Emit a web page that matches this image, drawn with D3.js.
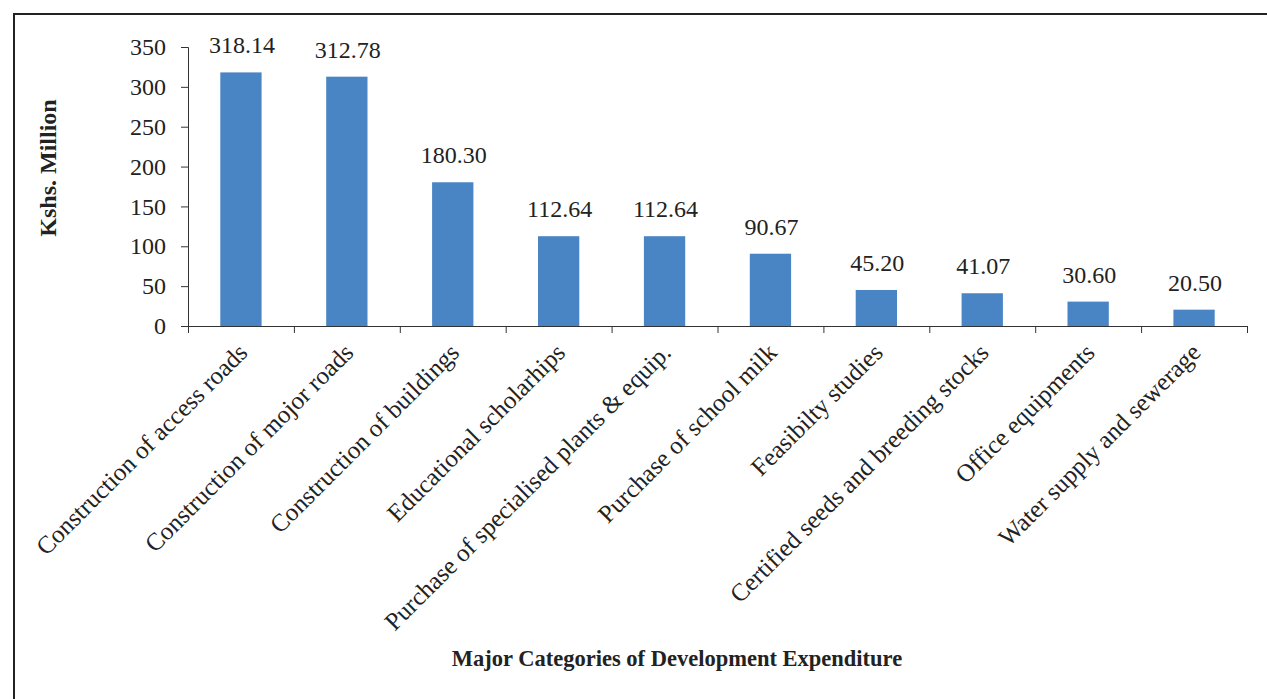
<!DOCTYPE html>
<html>
<head>
<meta charset="utf-8">
<script src="https://cdn.jsdelivr.net/npm/d3@7"></script>
<style>
  body { margin: 0; background: #fff; }
  text { font-family: "Liberation Serif", "Times New Roman", serif; fill: #222; }
</style>
</head>
<body>
<svg id="chart"></svg>
<script>
const categories = [
  'Construction of access roads',
  'Construction of mojor roads',
  'Construction of buildings',
  'Educational scholarhips',
  'Purchase of specialised plants & equip.',
  'Purchase of school milk',
  'Feasibilty studies',
  'Certified seeds and breeding stocks',
  'Office equipments',
  'Water supply and sewerage'
]
const values = [318.14, 312.78, 180.30, 112.64, 112.64, 90.67, 45.20, 41.07, 30.60, 20.50]
const yTicks = [0, 50, 100, 150, 200, 250, 300, 350]

let width = 1267,
    height = 699,
    margin = {top: 47, bottom: 373, left: 188, right: 20}

const svg = d3.select('#chart')
  .attr('width', width)
  .attr('height', height)

// outer frame (runs off the right and bottom of the picture)
svg.append('rect')
  .attr('x', 14).attr('y', 14)
  .attr('width', 1270).attr('height', 700)
  .attr('fill', 'none')
  .attr('stroke', '#222')
  .attr('stroke-width', 2)

const xScale = d3.scaleBand()
  .domain(categories)
  .range([margin.left, 1247])
  .paddingInner(0.61)
  .paddingOuter(0.305)

const yScale = d3.scaleLinear()
  .domain([0, 350])
  .range([326, margin.top])

// bars
svg.selectAll('.bar')
  .data(values)
  .enter().append('rect')
    .attr('class', 'bar')
    .attr('x', (d, i) => xScale(categories[i]))
    .attr('y', d => yScale(d))
    .attr('width', xScale.bandwidth())
    .attr('height', d => yScale(0) - yScale(d))
    .attr('fill', '#4985c4')

// value labels
svg.selectAll('.val')
  .data(values)
  .enter().append('text')
    .attr('class', 'val')
    .attr('x', (d, i) => xScale(categories[i]) + xScale.bandwidth() / 2 + 1)
    .attr('y', d => yScale(d) - 19)
    .attr('text-anchor', 'middle')
    .style('font-size', '24px')
    .text(d => d.toFixed(2))

// y axis
const yAxis = d3.axisLeft(yScale).tickValues(yTicks).tickSize(7).tickPadding(15)
const gy = svg.append('g')
  .attr('transform', `translate(${margin.left},0)`)
  .call(yAxis)
gy.select('.domain').attr('stroke', '#333')
gy.selectAll('.tick line').attr('stroke', '#333')
gy.selectAll('.tick text')
  .style('font-size', '24px')
  .style('font-family', '"Liberation Serif", serif')
  .attr('fill', '#222')

// x axis: ticks at category boundaries
const xAxisLine = d3.axisBottom(d3.scaleLinear().domain([0, categories.length]).range([margin.left, 1247]))
  .ticks(categories.length)
  .tickSize(7)
  .tickFormat('')
const gx = svg.append('g')
  .attr('transform', `translate(0,${yScale(0)})`)
  .call(xAxisLine)
gx.select('.domain').attr('stroke', '#333')
gx.selectAll('.tick line').attr('stroke', '#333')

// rotated category labels
svg.selectAll('.cat')
  .data(categories)
  .enter().append('text')
    .attr('class', 'cat')
    .attr('text-anchor', 'end')
    .style('font-size', '25px')
    .attr('transform', d => `translate(${xScale(d) + xScale.bandwidth() / 2 + 8},${yScale(0) + 28}) rotate(-45)`)
    .text(d => d)

// axis titles
svg.append('text')
  .attr('transform', 'translate(56,168) rotate(-90)')
  .attr('text-anchor', 'middle')
  .style('font-size', '24px')
  .style('font-weight', 'bold')
  .text('Kshs. Million')

svg.append('text')
  .attr('x', 677)
  .attr('y', 666)
  .attr('text-anchor', 'middle')
  .style('font-size', '22.5px')
  .style('font-weight', 'bold')
  .text('Major Categories of Development Expenditure')
</script>
</body>
</html>
